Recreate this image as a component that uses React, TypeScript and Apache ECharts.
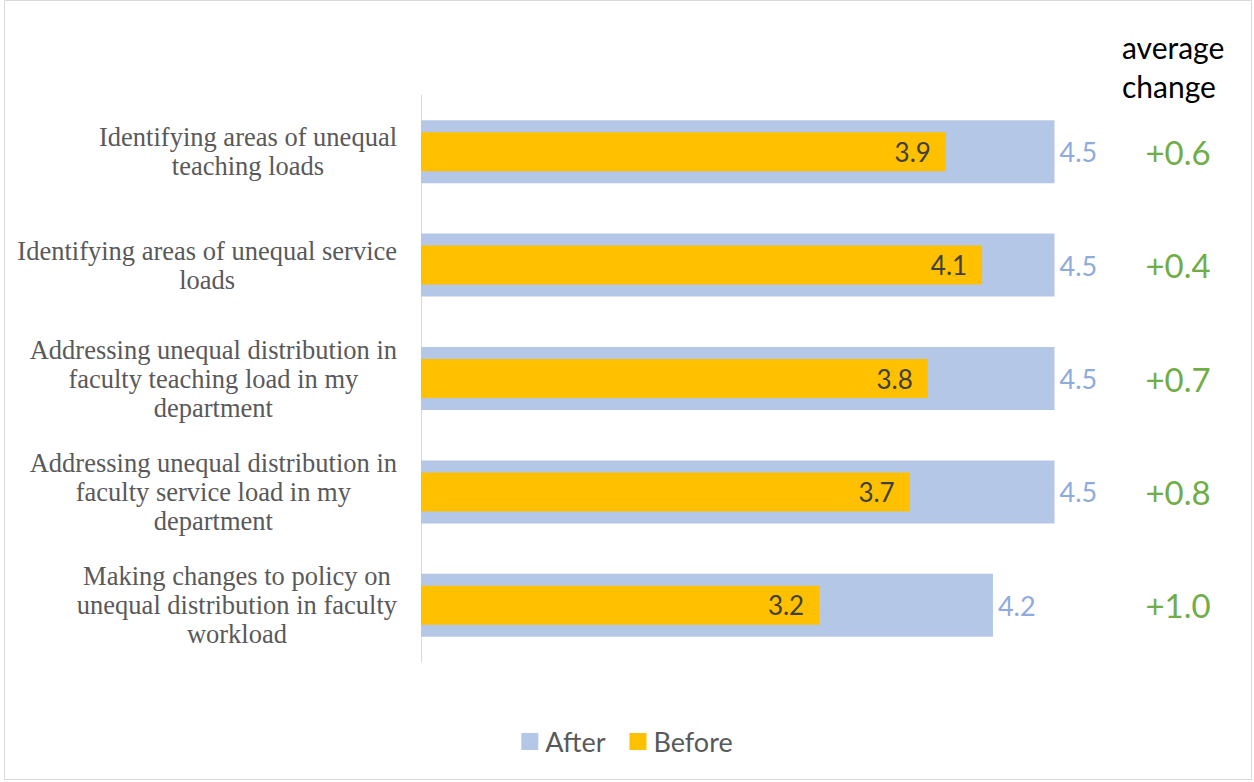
import React, { useEffect, useRef } from "react";
import * as echarts from "echarts";

const categories = [
  "Identifying areas of unequal\nteaching loads",
  "Identifying areas of unequal service\nloads",
  "Addressing unequal distribution in\nfaculty teaching load in my\ndepartment",
  "Addressing unequal distribution in\nfaculty service load in my\ndepartment",
  "Making changes to policy on\nunequal distribution in faculty\nworkload",
];
const afterValues = [4.5, 4.5, 4.5, 4.5, 4.16];
const beforeValues = [3.9, 4.1, 3.8, 3.7, 3.2];
const changeLabels = afterValues.map((a, i) => "+" + (a - beforeValues[i]).toFixed(1));

const SANS = "Lato, 'Open Sans', sans-serif";
const SERIF = "'Liberation Serif', 'DejaVu Serif', serif";

export default function App() {
  const ref = useRef<HTMLDivElement>(null);
  useEffect(() => {
    const chart = echarts.init(ref.current!, null, { renderer: "svg" });
    chart.setOption({
      animation: false,
      backgroundColor: "#ffffff",
      grid: { left: 421, right: 109, top: 95, bottom: 120, containLabel: false },
      legend: {
        bottom: 22,
        left: "center",
        data: ["After", "Before"],
        icon: "rect",
        itemWidth: 17,
        itemHeight: 17,
        itemGap: 24,
        textStyle: {
          fontFamily: SANS,
          fontSize: 27,
          color: "#595959",
          padding: [0, 0, 0, 2],
        },
      },
      xAxis: {
        type: "value",
        min: 1,
        max: 5,
        show: false,
      },
      yAxis: [
        {
          type: "category",
          inverse: true,
          data: categories,
          axisLine: { show: true, lineStyle: { color: "#D9D9D9", width: 1 } },
          axisTick: { show: false },
          axisLabel: {
            align: "right",
            margin: 24,
            formatter: (v: string) =>
              v
                .split("\n")
                .map((l) => `{c|${l}}`)
                .join("\n"),
            rich: {
              c: {
                align: "center",
                fontFamily: SERIF,
                fontSize: 26.5,
                lineHeight: 29,
                color: "#595959",
              },
            },
          },
        },
        {
          type: "category",
          inverse: true,
          position: "right",
          data: changeLabels,
          axisLine: { show: false },
          axisTick: { show: false },
          axisLabel: {
            align: "center",
            margin: 33,
            fontFamily: SANS,
            fontSize: 33,
            color: "#70AD47",
          },
        },
      ],
      graphic: [
        {
          type: "rect",
          shape: { x: 4.5, y: 0.5, width: 1247, height: 779 },
          style: { fill: "none", stroke: "#D9D9D9", lineWidth: 1 },
          silent: true,
        },
        {
          type: "text",
          left: 1122,
          top: 27,
          style: {
            text: "average\nchange",
            fontFamily: SANS,
            fontSize: 30,
            lineHeight: 39,
            fill: "#000000",
          },
        },
      ],
      series: [
        {
          name: "After",
          type: "bar",
          yAxisIndex: 0,
          data: afterValues,
          barWidth: 63,
          itemStyle: { color: "#B4C7E7" },
          label: {
            show: true,
            position: "right",
            distance: 5,
            formatter: (p: any) => p.value.toFixed(1),
            fontFamily: SANS,
            fontSize: 27,
            color: "#8FAADC",
          },
        },
        {
          name: "Before",
          type: "bar",
          yAxisIndex: 1,
          data: beforeValues,
          barWidth: 39,
          itemStyle: { color: "#FFC000" },
          label: {
            show: true,
            position: "insideRight",
            distance: 15,
            formatter: (p: any) => p.value.toFixed(1),
            fontFamily: SANS,
            fontSize: 26,
            color: "#404040",
          },
        },
      ],
    });
    return () => chart.dispose();
  }, []);
  return (
    <div
      ref={ref}
      style={{ position: "absolute", left: 0, top: 0, width: 1254, height: 782 }}
    />
  );
}
